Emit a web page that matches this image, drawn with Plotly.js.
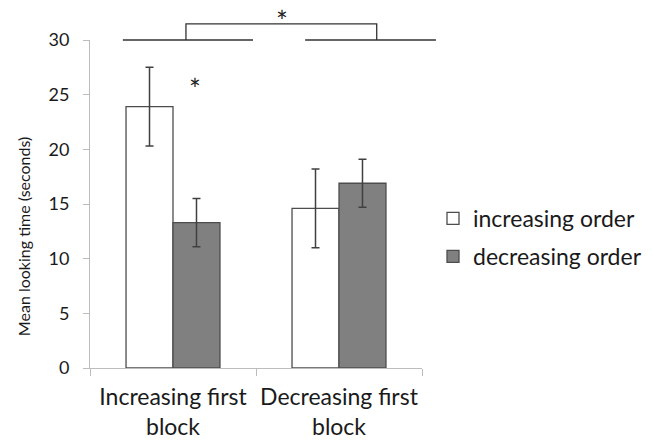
<!DOCTYPE html>
<html>
<head>
<meta charset="utf-8">
<script src="https://cdn.plot.ly/plotly-3.0.1.min.js"></script>
<style>
  html, body { margin: 0; padding: 0; background: #ffffff; }
  #chart { width: 653px; height: 442px; }
</style>
</head>
<body>
<div id="chart"></div>
<script>
const categories = ['Increasing first<br>block', 'Decreasing first<br>block'];
const seriesNames = ['increasing order', 'decreasing order'];
const increasingOrder = [23.9, 14.6];
const increasingErr = [3.6, 3.6];
const decreasingOrder = [13.3, 16.9];
const decreasingErr = [2.2, 2.2];
const yTicks = [0, 5, 10, 15, 20, 25, 30];
const yTitle = 'Mean looking time (seconds)';

const FONT = 'Lato, "Open Sans", sans-serif';
const TXT = '#1a1a1a';
const AX = '#bcbcbc';

const traces = [
  {
    type: 'bar', name: seriesNames[0], x: categories, y: increasingOrder,
    marker: { color: '#ffffff', line: { color: '#4d4d4d', width: 1.3 } },
    error_y: { type: 'data', array: increasingErr, visible: true, color: '#404040', thickness: 1.5, width: 4 },
    legendgroup: 'a'
  },
  {
    type: 'bar', name: seriesNames[1], x: categories, y: decreasingOrder,
    marker: { color: '#808080', line: { color: '#4d4d4d', width: 1.3 } },
    error_y: { type: 'data', array: decreasingErr, visible: true, color: '#404040', thickness: 1.5, width: 4 },
    legendgroup: 'b'
  }
];

const layout = {
  width: 653, height: 442,
  margin: { l: 90, r: 231, t: 40, b: 74, autoexpand: false },
  paper_bgcolor: '#ffffff', plot_bgcolor: '#ffffff',
  font: { family: FONT, color: TXT },
  barmode: 'group', bargap: 0.434, bargroupgap: 0,
  showlegend: true,
  legend: {
    xref: 'container', yref: 'container',
    x: 433 / 653, xanchor: 'left', y: 1 - 237.5 / 442, yanchor: 'middle',
    font: { family: FONT, size: 23, color: TXT },
    traceorder: 'grouped', tracegroupgap: 5,
    bgcolor: 'rgba(0,0,0,0)'
  },
  xaxis: {
    type: 'category', showline: true, linecolor: AX, linewidth: 1,
    ticks: 'outside', tickson: 'boundaries', ticklen: 7, tickcolor: AX,
    tickangle: 0, ticklabelstandoff: 8,
    showgrid: false, zeroline: false,
    tickfont: { family: FONT, size: 23, color: TXT },
    fixedrange: true
  },
  yaxis: {
    range: [0, 30], tickvals: yTicks, ticktext: yTicks.map(String),
    showline: true, linecolor: AX, linewidth: 1,
    ticks: 'outside', ticklen: 6, tickcolor: AX,
    showgrid: false, zeroline: false,
    tickfont: { family: FONT, size: 18, color: TXT },
    ticklabelstandoff: 10,
    fixedrange: true
  },
  shapes: [
    { type: 'line', xref: 'paper', yref: 'paper', x0: 0.099, x1: 0.491, y0: 1.0, y1: 1.0, line: { color: '#333333', width: 1.3 } },
    { type: 'line', xref: 'paper', yref: 'paper', x0: 0.648, x1: 1.042, y0: 1.0, y1: 1.0, line: { color: '#333333', width: 1.3 } },
    { type: 'path', xref: 'paper', yref: 'paper', path: 'M0.289,1.0 L0.289,1.049 L0.8636,1.049 L0.8636,1.0', line: { color: '#333333', width: 1.3 } }
  ],
  annotations: [
    { xref: 'paper', yref: 'paper', x: 0.578, y: 1.058, text: '*', showarrow: false, font: { family: FONT, size: 28, color: '#222222' }, xanchor: 'center', yanchor: 'middle' },
    { xref: 'paper', yref: 'paper', x: 0.316, y: 0.852, text: '*', showarrow: false, font: { family: FONT, size: 28, color: '#222222' }, xanchor: 'center', yanchor: 'middle' },
    { xref: 'paper', yref: 'paper', x: -0.2018, y: 0.399, text: yTitle, textangle: -90, showarrow: false, font: { family: FONT, size: 16, color: TXT }, xanchor: 'center', yanchor: 'middle' }
  ]
};

Plotly.newPlot('chart', traces, layout, { displayModeBar: false, staticPlot: true });
</script>
</body>
</html>
